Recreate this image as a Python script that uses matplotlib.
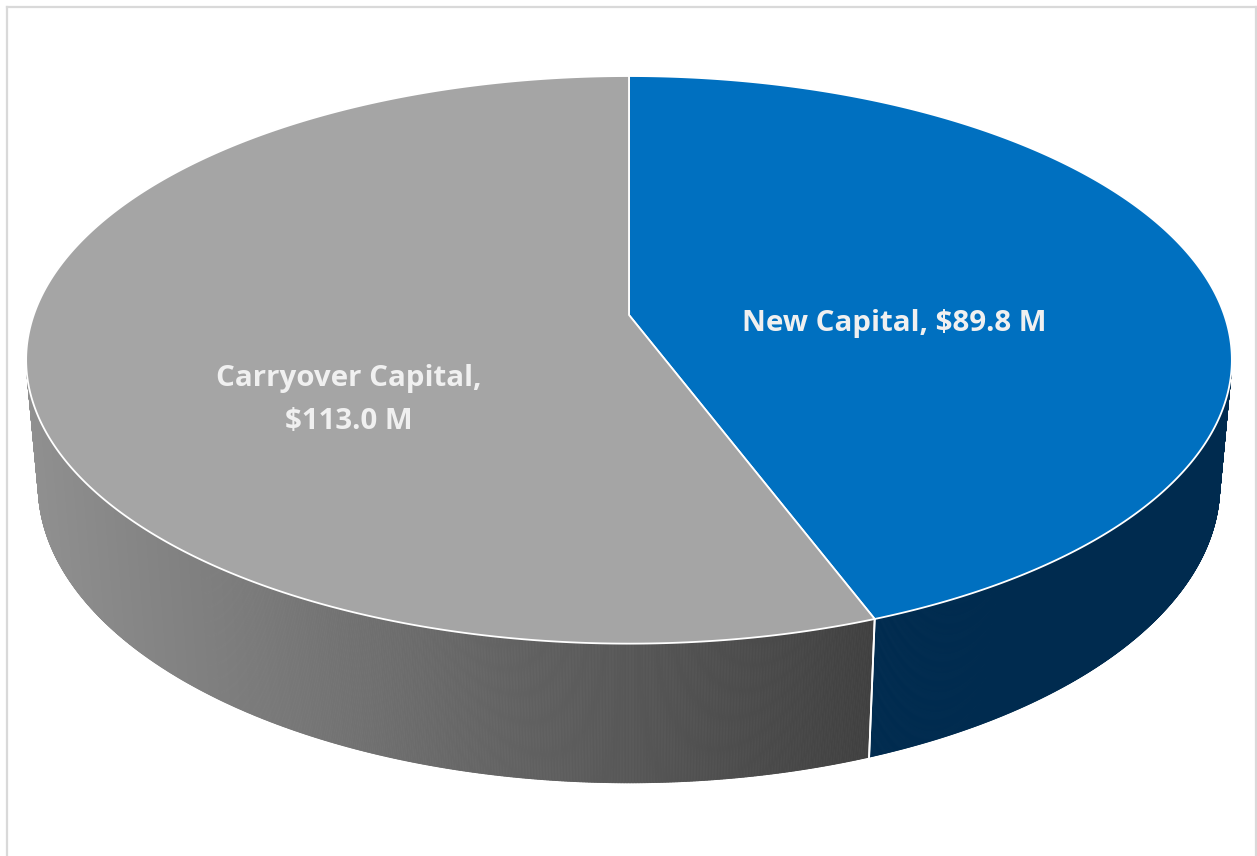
import numpy as np
import matplotlib
matplotlib.use("Agg")
import matplotlib.pyplot as plt
from matplotlib.patches import Polygon
from matplotlib.collections import PolyCollection
from matplotlib.lines import Line2D

# Capital budget split ($ millions)
categories = ["New Capital", "Carryover Capital"]
values = [89.8, 113.0]
label_texts = ["New Capital, $89.8 M", "Carryover Capital,\n$113.0 M"]

top_colors = ["#0070c0", "#a5a5a5"]
side_colors = ["#002b4f", None]  # None -> grey shaded gradient

W, H, DPI = 1257, 856, 100
fig = plt.figure(figsize=(W / DPI, H / DPI), dpi=DPI)
ax = fig.add_axes([0, 0, 1, 1])
ax.set_xlim(0, W)
ax.set_ylim(H, 0)
ax.axis("off")

# Perspective camera for the 3-D disc (pixel space)
CX, CY = 629.0, 315.0
PHI = np.radians(27.7)
DIST = 5.604
FOC = 3336.0
THICK = 0.24


def project(theta, z):
    u, v = np.cos(theta), np.sin(theta)
    depth = DIST + v * np.cos(PHI) - z * np.sin(PHI)
    up = v * np.sin(PHI) + z * np.cos(PHI)
    return CX + FOC * u / depth, CY - FOC * up / depth


def centre(z):
    depth = DIST - z * np.sin(PHI)
    return CX, CY - FOC * (z * np.cos(PHI)) / depth


# Slice angles: start at 12 o'clock, run clockwise
fracs = np.array(values) / np.sum(values)
starts = np.pi / 2 - 2 * np.pi * np.concatenate([[0], np.cumsum(fracs)[:-1]])
ends = starts - 2 * np.pi * fracs

# side wall visible where sin(theta) < -1/(D cos phi)
vis_lim = -1.0 / (DIST * np.cos(PHI))


def grey_at(x):
    g = 144 - 80 * (x - 30) / 840
    g = np.clip(g, 50, 160) / 255.0
    return (g, g, g)


# ---- side walls
for i in range(len(values)):
    th = np.linspace(starts[i], ends[i], 1600)
    polys, cols = [], []
    for a, b in zip(th[:-1], th[1:]):
        m = 0.5 * (a + b)
        if np.sin(m) >= vis_lim:
            continue
        x1, y1 = project(a, 0)
        x2, y2 = project(b, 0)
        x3, y3 = project(b, -THICK)
        x4, y4 = project(a, -THICK)
        polys.append([(x1, y1), (x2, y2), (x3, y3), (x4, y4)])
        if side_colors[i] is None:
            cols.append(grey_at(0.25 * (x1 + x2 + x3 + x4)))
        else:
            cols.append(side_colors[i])
    if polys:
        pc = PolyCollection(polys, facecolors=cols, edgecolors=cols,
                            linewidths=0.6, zorder=2)
        ax.add_collection(pc)

# vertical white seams on the visible wall
for a in list(starts) + list(ends):
    if np.sin(a) < vis_lim:
        x1, y1 = project(a, 0)
        x2, y2 = project(a, -THICK)
        ax.add_line(Line2D([x1, x2], [y1, y2], color="white", lw=1.3, zorder=3))

# ---- top faces
c0 = centre(0)
for i in range(len(values)):
    th = np.linspace(starts[i], ends[i], 600)
    xs, ys = project(th, 0)
    pts = np.column_stack([np.r_[c0[0], xs], np.r_[c0[1], ys]])
    ax.add_patch(Polygon(pts, closed=True, facecolor=top_colors[i],
                         edgecolor="white", lw=1.3, joinstyle="round", zorder=4))

# ---- labels (size chosen so the first label spans ~305 px)
font_family = ["Open Sans", "DejaVu Sans"]
renderer = fig.canvas.get_renderer()
probe = ax.text(0, 0, label_texts[0], fontsize=20, fontweight="bold",
                family=font_family)
probe_w = probe.get_window_extent(renderer).width
probe.remove()
label_size = 20 * 305.0 / probe_w

label_pos = [(894, 323), (349, 400)]
for txt, (lx, ly) in zip(label_texts, label_pos):
    ax.text(lx, ly, txt, ha="center", va="center", color="#f0f0f0",
            fontsize=label_size, fontweight="bold", family=font_family,
            linespacing=1.65, zorder=6)

# ---- chart border (left, top, right)
bc = "#d9d9d9"
ax.add_line(Line2D([7, 7], [H + 5, 7], color=bc, lw=1.6, zorder=7))
ax.add_line(Line2D([7, 1256], [7, 7], color=bc, lw=1.6, zorder=7))
ax.add_line(Line2D([1256, 1256], [7, H + 5], color=bc, lw=1.6, zorder=7))

fig.savefig("out.png", dpi=DPI, facecolor="white")
